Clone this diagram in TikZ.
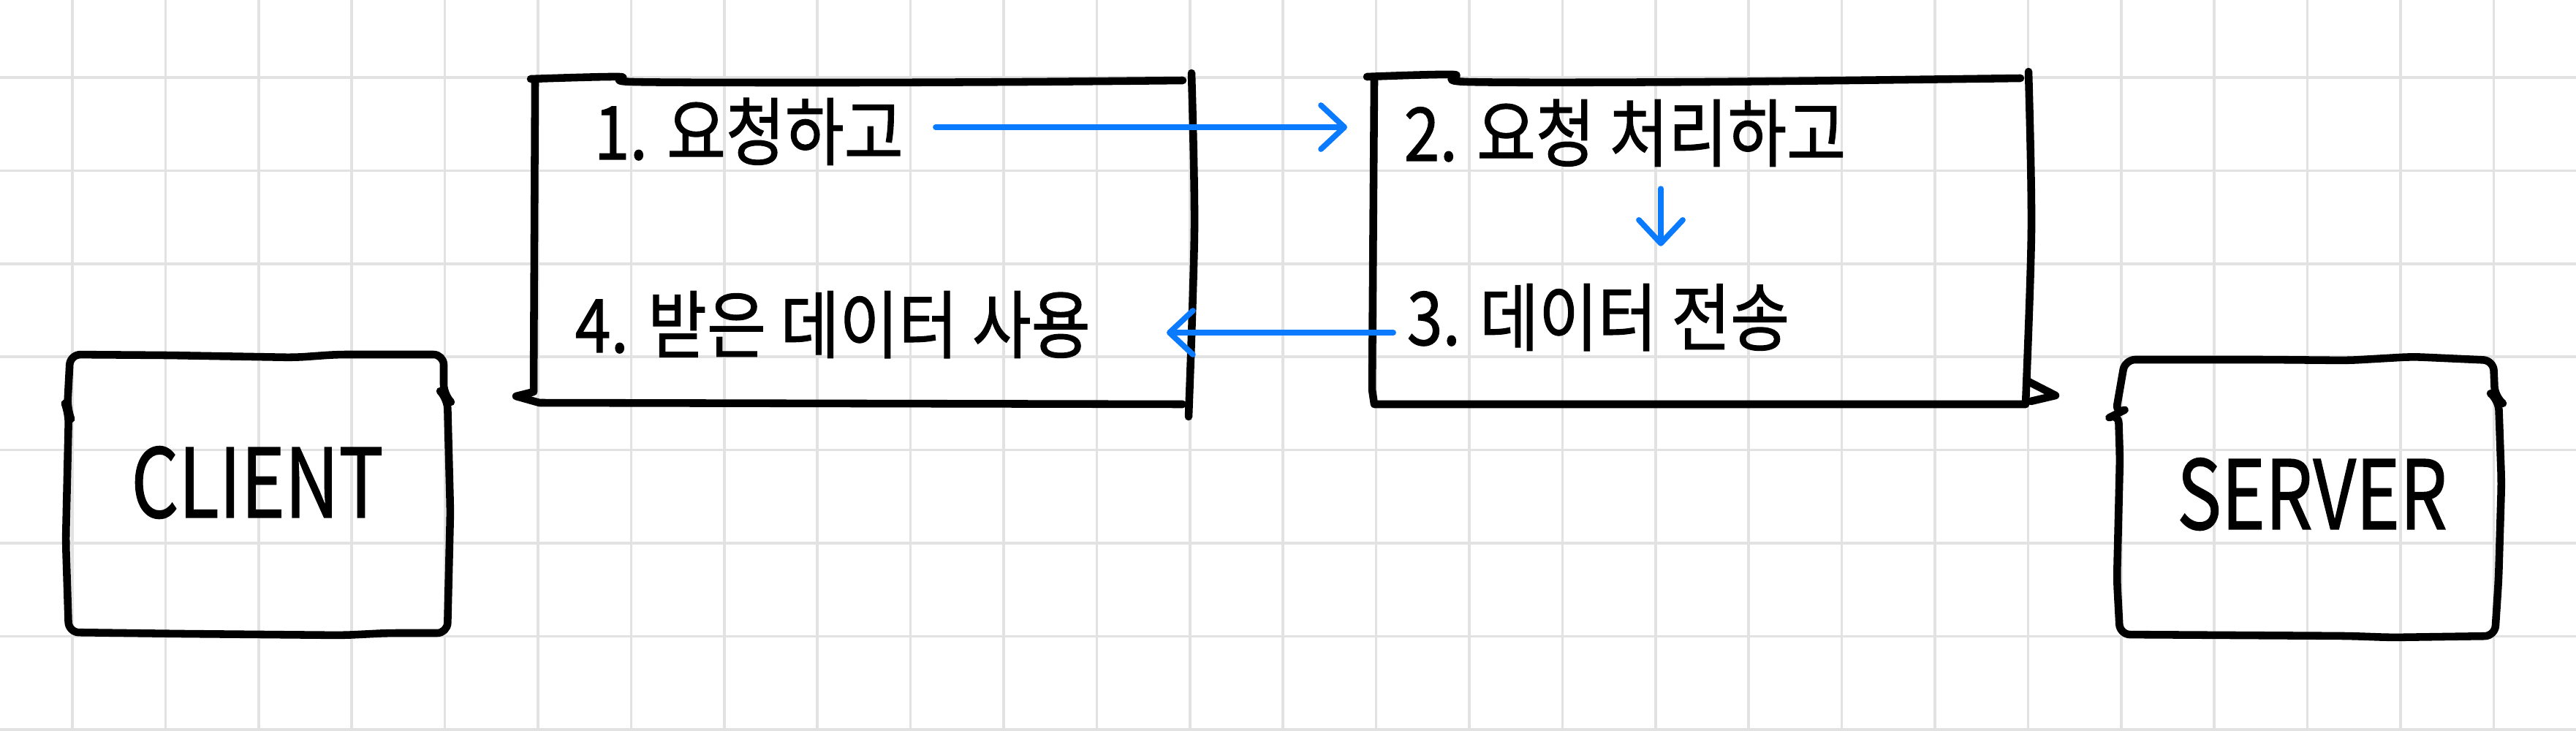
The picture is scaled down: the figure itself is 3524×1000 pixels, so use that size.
\documentclass[tikz,border=0pt]{standalone}
\usepackage{fontspec}
\usepackage{graphicx}
\newfontfamily\kr{Noto Sans CJK KR}[FakeBold=1.2]
\usetikzlibrary{arrows.meta,calc}
\definecolor{gridgray}{HTML}{E2E2E2}
\definecolor{flowblue}{HTML}{0A7AFF}
\newcommand{\tallt}[1]{\scalebox{1}[1.15]{#1}}
\newcommand{\tallw}[1]{\scalebox{1}[1.28]{#1}}
\tikzset{
  gridline/.style={draw=gridgray, line width=1.05pt},
  ink/.style={draw=black, line width=3pt, line cap=round, line join=round},
  flow/.style={draw=flowblue, line width=2.2pt, line cap=round,
    -{Straight Barb[length=3.2mm,width=6mm,round]}},
  steptext/.style={font=\kr\fontsize{25}{30}\selectfont, inner sep=0pt,
    text height=22pt, text depth=5pt, anchor=west},
  bigtext/.style={font=\kr\fontsize{29}{34}\selectfont, inner sep=0pt},
}
\begin{document}
\begin{tikzpicture}[x=0.01cm,y=-0.01cm]
\path[use as bounding box, fill=white] (0,0) rectangle (3524,1000);
% grid
\foreach \k in {0,...,26} \draw[gridline] ({99+127.4*\k},0) -- ({99+127.4*\k},1000);
\foreach \k in {0,...,7} \draw[gridline] (0,{106+127.4*\k}) -- (3524,{106+127.4*\k});

% left process box (client side)
\draw[ink] plot[smooth, tension=0.5] coordinates {(726,108) (847,105) (866,112) (1146,113) (1402,112) (1618,110)};
\draw[ink] (732,111) -- (730,536) -- (706,542) -- (738,551) -- (1618,553);
\draw[ink] plot[smooth, tension=0.5] coordinates {(1630,100) (1634,313) (1626,570)};

% right process box (server side)
\draw[ink] plot[smooth, tension=0.5] coordinates {(1870,105) (1988,102) (2008,112) (2336,112) (2764,107)};
\draw[ink] (1880,110) -- (1877,533) -- (1880,553) -- (2771,553);
\draw[ink] plot[smooth, tension=0.5] coordinates {(2775,98) (2779,313) (2771,553)};
\draw[ink] (2775,522) -- (2812,541) -- (2778,549);

% CLIENT box
\draw[ink, rounded corners=4pt] (96,485) -- (230,486) -- (404,489) -- (460,485) -- (607,485)
  -- (607,540) -- (612,545) -- (616,700) -- (612,866) -- (530,866) -- (470,869) -- (250,867)
  -- (94,865) -- (90,740) -- (94,565) -- (92,560) -- cycle;
% SERVER box
\draw[ink, rounded corners=4pt] (2907,492) -- (3100,492) -- (3213,493) -- (3300,488) -- (3411,493)
  -- (3413,543) -- (3418,547) -- (3422,660) -- (3418,793) -- (3413,870) -- (3271,872) -- (3213,870)
  -- (2900,868) -- (2896,793) -- (2900,627) -- (2898,565) -- (2894,567) -- cycle;

% texts
\node[steptext] (t1) at (812,188) {\tallt{1. 요청하고}};
\node[steptext] (t2) at (1920,190) {\tallt{2. 요청 처리하고}};
\node[steptext] (t3) at (1924,442) {\tallt{3. 데이터 전송}};
\node[steptext] (t4) at (786,452) {\tallt{4. 받은 데이터 사용}};
\node[bigtext] (client) at (352,660) {\tallw{CLIENT}};
\node[bigtext] (server) at (3163,676) {\tallw{SERVER}};

% connectors
\coordinate (a1) at (1280,174);
\coordinate (c2) at (2272,0);
\coordinate (a4) at (1596,455);
\draw[flow, shorten >=0.77cm] (a1) -- (t2.west |- a1);
\draw[flow, shorten <=0.2cm, shorten >=0.57cm] (t2.south -| c2) -- (t3.north -| c2);
\draw[flow, shorten <=0.18cm] (t3.west |- a4) -- (a4);
\end{tikzpicture}
\end{document}
